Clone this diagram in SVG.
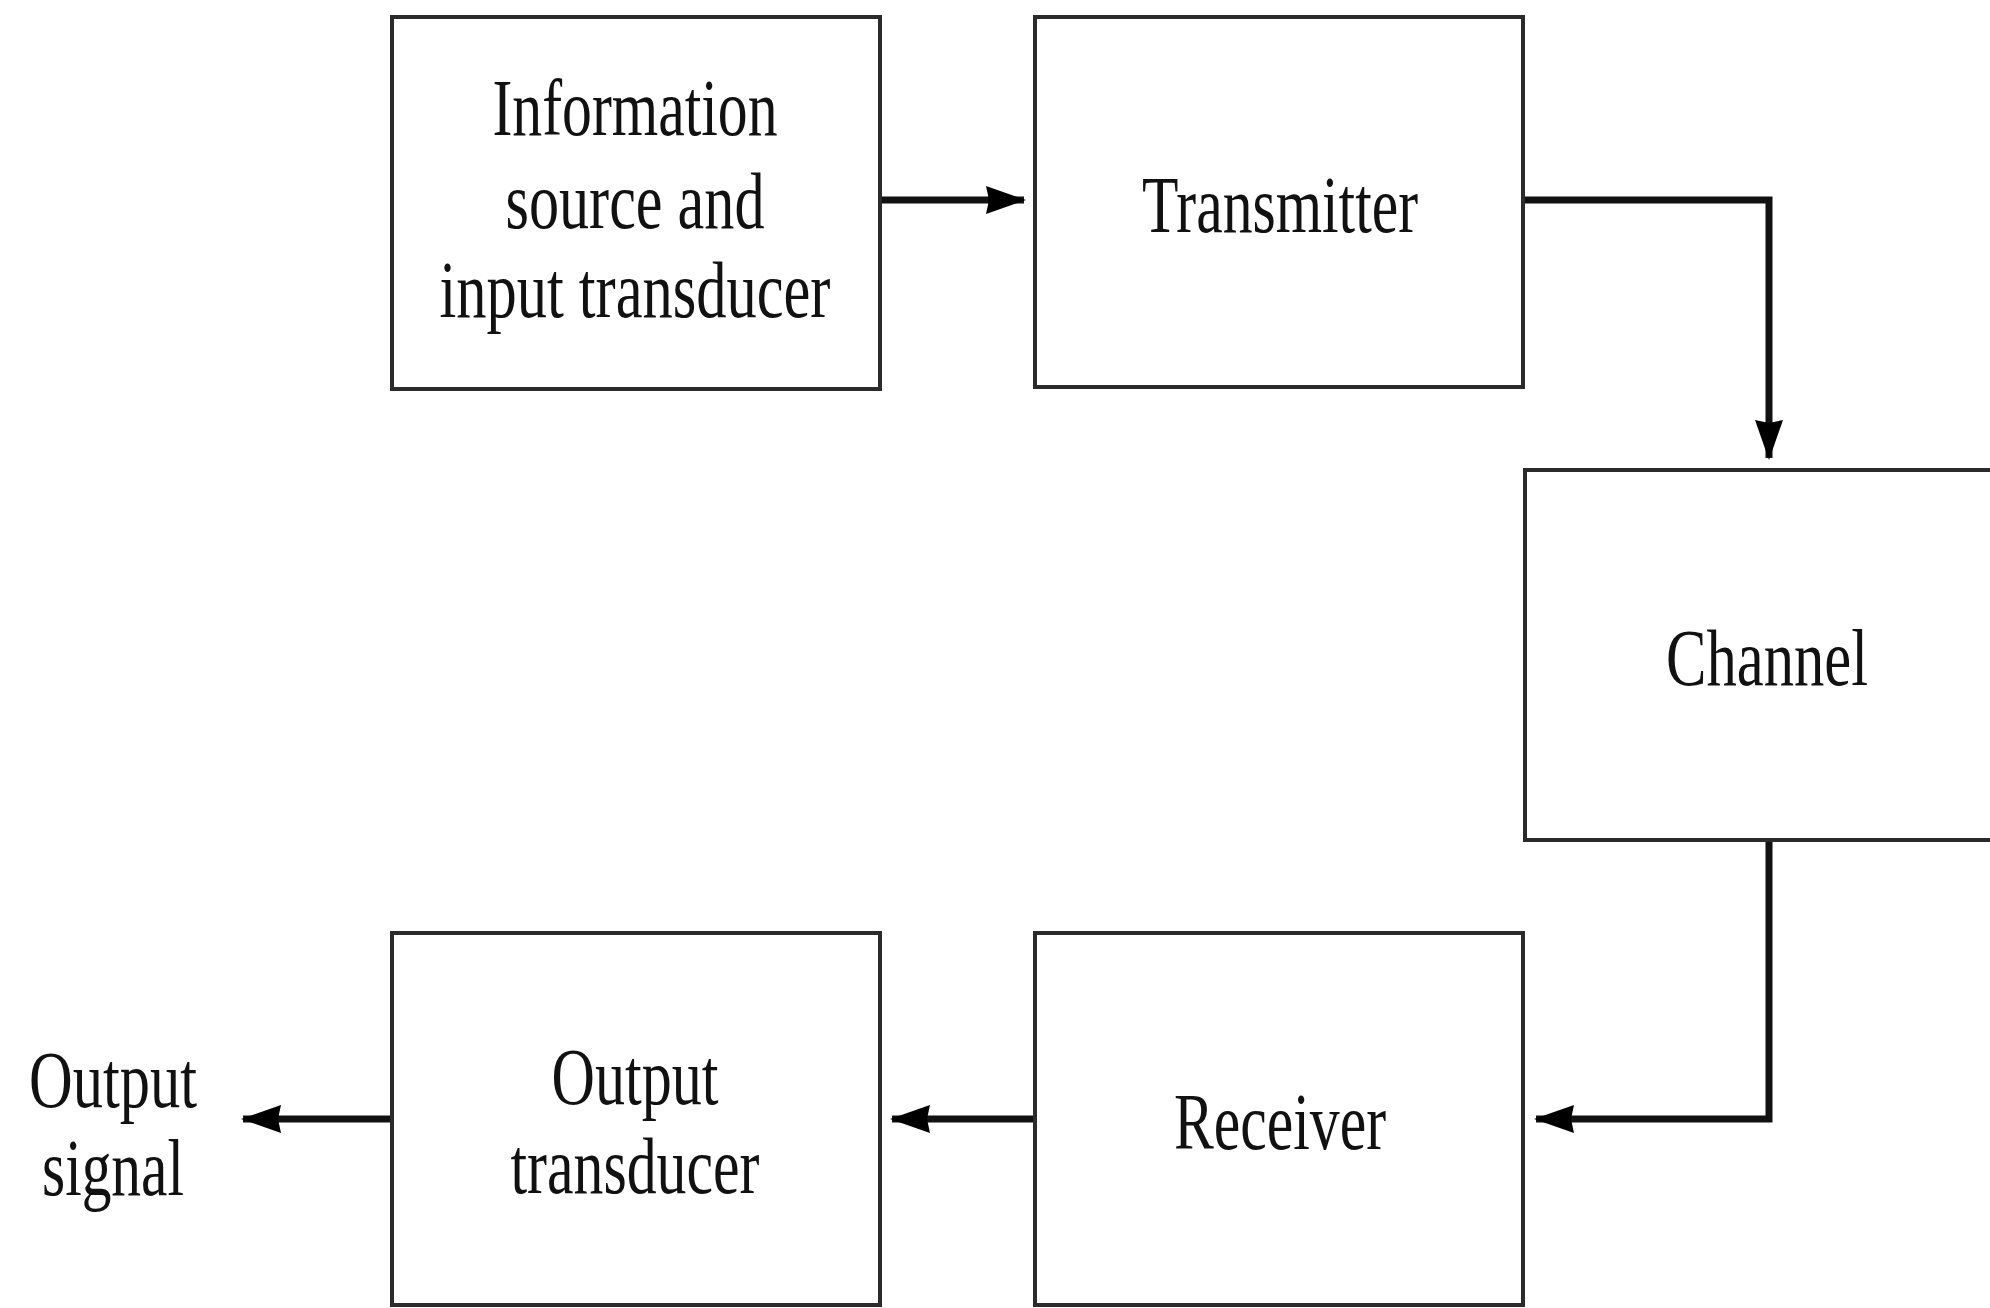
<svg xmlns="http://www.w3.org/2000/svg" width="1990" height="1308" viewBox="0 0 1990 1308">
<style>
.box{fill:#fff;stroke:#2b2b2b;stroke-width:4}
.lbl{font-family:"Liberation Serif","Times New Roman",serif;font-size:80px;fill:#111;text-anchor:middle}
.con{fill:none;stroke:#111;stroke-width:7}
</style>
<defs>
<marker id="ah" markerUnits="userSpaceOnUse" markerWidth="44" markerHeight="32" refX="38" refY="15" orient="auto">
<path d="M0,1 L40,15 L0,29 L3,15 z" fill="#000"/>
</marker>
</defs>
<rect width="1990" height="1308" fill="#fff"/>
<g id="connectors">
<path class="con" d="M881,200 L1024,200" marker-end="url(#ah)"/>
<path class="con" d="M1524,200 L1769,200 L1769,458" marker-end="url(#ah)"/>
<path class="con" d="M1769,840 L1769,1119 L1536,1119" marker-end="url(#ah)"/>
<path class="con" d="M1034,1119 L892,1119" marker-end="url(#ah)"/>
<path class="con" d="M391,1119 L243,1119" marker-end="url(#ah)"/>
</g>
<g id="info-source">
<rect class="box" x="392" y="17" width="488" height="372"/>
<text class="lbl" x="635" y="135" textLength="285" lengthAdjust="spacingAndGlyphs">Information</text>
<text class="lbl" x="635" y="228" textLength="259" lengthAdjust="spacingAndGlyphs">source and</text>
<text class="lbl" x="635" y="317" textLength="391" lengthAdjust="spacingAndGlyphs">input transducer</text>
</g>
<g id="transmitter">
<rect class="box" x="1035" y="17" width="488" height="370"/>
<text class="lbl" x="1280" y="232" textLength="276" lengthAdjust="spacingAndGlyphs">Transmitter</text>
</g>
<g id="channel">
<rect class="box" x="1525" y="470" width="500" height="370"/>
<text class="lbl" x="1767" y="685" textLength="202" lengthAdjust="spacingAndGlyphs">Channel</text>
</g>
<g id="receiver">
<rect class="box" x="1035" y="933" width="488" height="372"/>
<text class="lbl" x="1280" y="1149" textLength="212" lengthAdjust="spacingAndGlyphs">Receiver</text>
</g>
<g id="output-transducer">
<rect class="box" x="392" y="933" width="488" height="372"/>
<text class="lbl" x="635" y="1104" textLength="167" lengthAdjust="spacingAndGlyphs">Output</text>
<text class="lbl" x="635" y="1193" textLength="249" lengthAdjust="spacingAndGlyphs">transducer</text>
</g>
<g id="output-signal">
<text class="lbl" x="113" y="1107" textLength="168" lengthAdjust="spacingAndGlyphs">Output</text>
<text class="lbl" x="113" y="1195" textLength="142" lengthAdjust="spacingAndGlyphs">signal</text>
</g>
</svg>
